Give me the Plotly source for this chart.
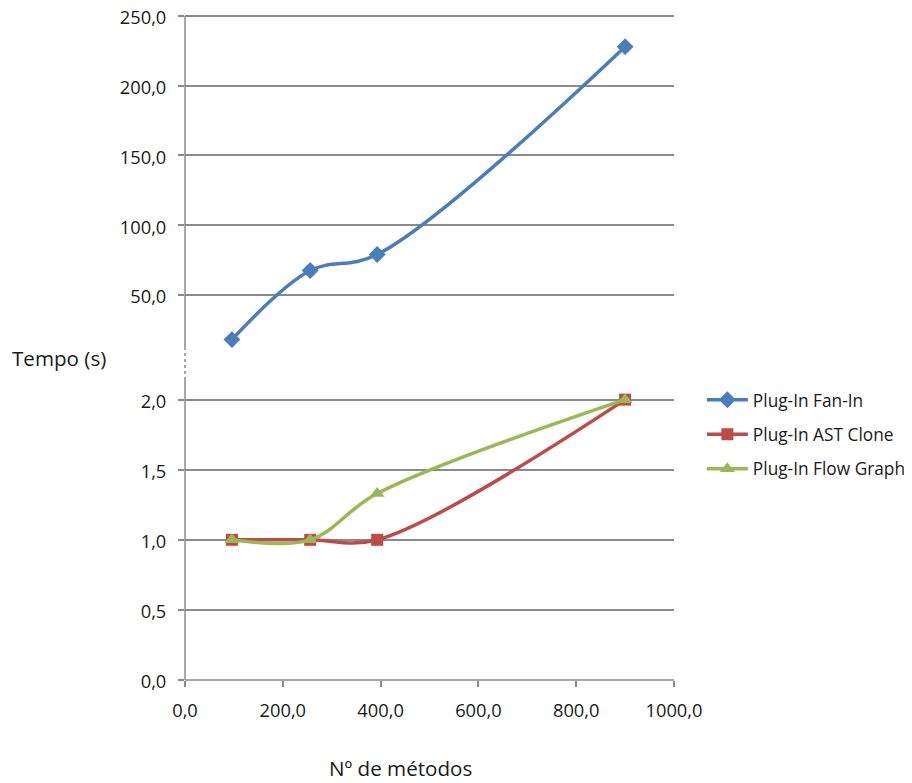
import plotly.graph_objects as go

metodos = [96, 256, 393, 900]
fan_in = [18.0, 67.5, 79.0, 228.0]
ast_clone = [1.0, 1.0, 1.0, 2.0]
flow_graph = [1.0, 1.0, 1.33, 2.0]

x_ticks = [0, 200, 400, 600, 800, 1000]
top_ticks = [50, 100, 150, 200, 250]
bottom_ticks = [0, 0.5, 1.0, 1.5, 2.0]

BLUE = "#4A7EBB"
RED = "#BE4B48"
GREEN = "#98B954"
GRID = "#8A8A8A"
FONT = "Open Sans"
TXT = "#1a1a1a"

fig = go.Figure()
fig.add_trace(go.Scatter(
    x=metodos, y=fan_in, name="Plug-In Fan-In", xaxis="x", yaxis="y2",
    mode="lines+markers", line=dict(color=BLUE, width=3.5, shape="spline", smoothing=1),
    marker=dict(symbol="diamond", size=13, color=BLUE), legendgroup="a"))
fig.add_trace(go.Scatter(
    x=metodos, y=ast_clone, name="Plug-In AST Clone", xaxis="x", yaxis="y",
    mode="lines+markers", line=dict(color=RED, width=3.5, shape="spline", smoothing=1),
    marker=dict(symbol="square", size=12, color=RED), legendgroup="b"))
fig.add_trace(go.Scatter(
    x=metodos, y=flow_graph, name="Plug-In Flow Graph", xaxis="x", yaxis="y",
    mode="lines+markers", line=dict(color=GREEN, width=3.5, shape="spline", smoothing=1),
    marker=dict(symbol="triangle-up", size=13, color=GREEN), legendgroup="c"))

axis_common = dict(showline=False, ticks="outside",
                   ticklen=6, tickcolor=GRID, tickwidth=1.5, zeroline=False,
                   automargin=False, ticklabelstandoff=8, ticklabeloverflow="allow",
                   tickfont=dict(family=FONT, size=18.3, color=TXT))

# page body has an 8px margin, so the figure sits at (8, 8) on screen
fig.update_layout(
    width=912, height=783,
    margin=dict(l=177, r=246, t=1, b=111),
    paper_bgcolor="white", plot_bgcolor="white",
    separators=",.",
    font=dict(family=FONT, size=17, color=TXT),
    xaxis=dict(range=[0, 1000], tickvals=x_ticks, tickformat=".1f", showgrid=False,
               anchor="y", domain=[0, 1], **axis_common),
    yaxis=dict(range=[0, 2.14], tickvals=bottom_ticks, tickformat=".1f", showgrid=True,
               gridcolor=GRID, gridwidth=1.5, domain=[0, 0.4471], anchor="x",
               ticklabelshift=2, **axis_common),
    yaxis2=dict(range=[12, 255], tickvals=top_ticks, tickformat=".1f", showgrid=True,
                gridcolor=GRID, gridwidth=1.5, domain=[0.4948, 1], anchor="x",
                ticklabelshift=2, **axis_common),
    legend=dict(x=1.057, y=0.4441, xanchor="left", yanchor="top",
                font=dict(family=FONT, size=17.3, color=TXT), itemwidth=41,
                tracegroupgap=9, bgcolor="rgba(0,0,0,0)"),
    showlegend=True,
)

# axis lines: solid x axis, solid y segments, dotted break between the two panels
fig.add_shape(type="line", xref="x domain", yref="y domain", x0=0, x1=1, y0=0, y1=0,
              line=dict(color=GRID, width=1.5))
fig.add_shape(type="line", xref="x domain", yref="y domain", x0=0, x1=0, y0=0, y1=1,
              line=dict(color=GRID, width=1.5))
fig.add_shape(type="line", xref="x domain", yref="y2", x0=0, x1=0, y0=12, y1=250,
              line=dict(color=GRID, width=1.5))
fig.add_shape(type="line", xref="x domain", yref="paper", x0=0, x1=0,
              y0=0.4471, y1=0.4948, line=dict(color=GRID, width=1.5, dash="dot"))

fig.add_annotation(text="Tempo (s)", xref="paper", yref="paper", x=-0.2577, y=0.4799,
                   xanchor="center", yanchor="middle", showarrow=False,
                   font=dict(family=FONT, size=20.6, color=TXT))
fig.add_annotation(text="Nº de métodos", xref="paper", yref="paper", x=0.4397, y=-0.1311,
                   xanchor="center", yanchor="middle", showarrow=False,
                   font=dict(family=FONT, size=20.6, color=TXT))

fig.write_html("out.html")
